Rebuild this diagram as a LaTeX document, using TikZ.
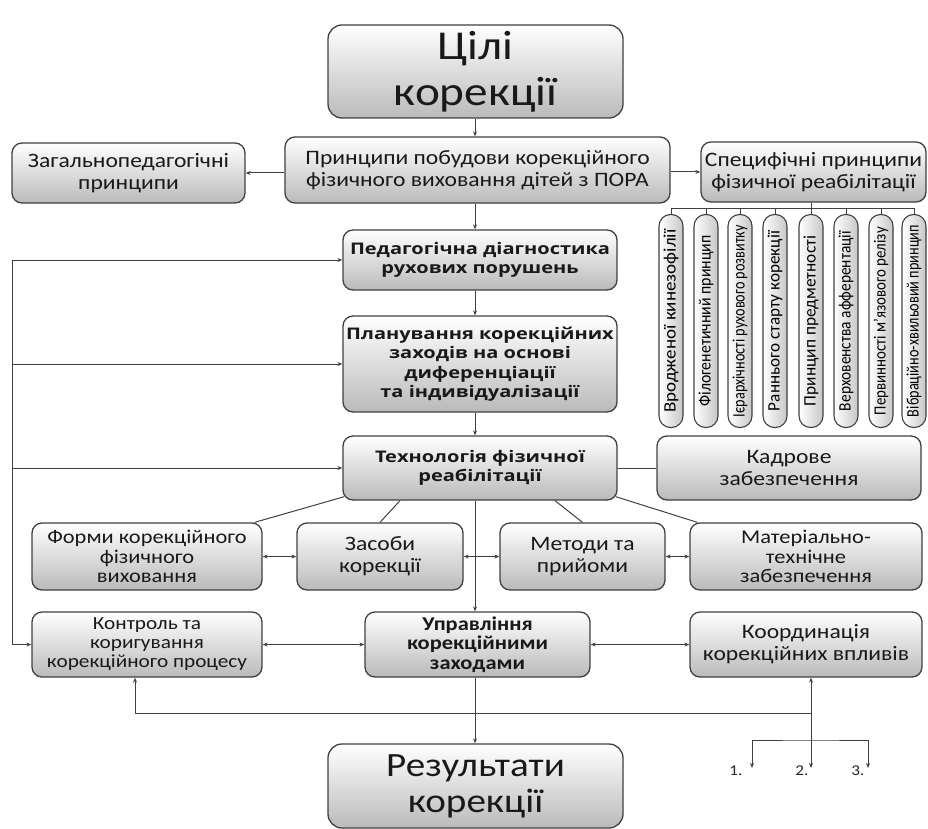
\documentclass[tikz,border=0pt]{standalone}
\usepackage{fontspec}
\usepackage{graphicx}
\setmainfont{Carlito}[FakeStretch=1.15]
\newfontfamily\capfont{Carlito}
\newfontfamily\osans{Open Sans}[FakeStretch=1.25]
\usetikzlibrary{arrows.meta}
\pgfdeclarelayer{bg}
\pgfsetlayers{bg,main}
\newcommand{\fmed}{\fontsize{20.5}{22}\selectfont}
\newcommand{\fmedt}{\fontsize{19.5}{19.5}\selectfont}
\newcommand{\fbold}{\osans\bfseries\fontsize{16}{19.5}\selectfont}
\newcommand{\capt}[2]{\rotatebox{90}{\resizebox{#1pt}{12pt}{#2}}}
\tikzset{
  box/.style={draw=black!75, line width=1.3pt, rounded corners=10pt,
    top color=white, bottom color=black!27, inner sep=2pt, align=center,
    font=\fmed, text=black!90},
  box3/.style={box, font=\fmedt},
  boldbox/.style={box, font=\fbold},
  bigbox/.style={box, rounded corners=14pt},
  capsule/.style={draw=black!75, line width=1.1pt, rounded corners=11.5pt,
    left color=white, right color=black!22, inner sep=0pt,
    minimum width=24pt, minimum height=213pt, font=\capfont\fontsize{14}{14}\selectfont},
  ln/.style={draw=black!75, line width=1pt},
  arr/.style={ln, -{Stealth[length=5pt,width=4pt]}},
  dbl/.style={ln, {Stealth[length=5pt,width=4pt]}-{Stealth[length=5pt,width=4pt]}},
  lbl/.style={font=\fontsize{15}{15}\selectfont, inner sep=0pt, text=black!85}
}
\begin{document}
\begin{tikzpicture}[x=1pt,y=-1pt]
\useasboundingbox (0,0) rectangle (928,829);
% main column
\node[bigbox, minimum width=295pt, minimum height=93pt, font=\fontsize{41}{46}\selectfont] (goals) at (475.5,71.5) {Цілі\\корекції};
\node[box, minimum width=233pt, minimum height=60pt] (general) at (128.5,173) {Загальнопедагогічні\\принципи};
\node[box, minimum width=385pt, minimum height=66pt] (princ) at (477.5,170) {Принципи побудови корекційного\\фізичного виховання дітей з ПОРА};
\node[box, minimum width=225pt, minimum height=60pt] (spec) at (813.5,172) {Специфічні принципи\\фізичної реабілітації};
\node[boldbox, minimum width=274pt, minimum height=60pt] (diag) at (480,260) {Педагогічна діагностика\\рухових порушень};
\node[boldbox, minimum width=274pt, minimum height=96pt] (plan) at (480,364) {Планування корекційних\\заходів на основі\\диференціації\\та індивідуалізації};
\node[boldbox, minimum width=274pt, minimum height=64pt] (tech) at (480,468) {Технологія фізичної\\реабілітації};
\node[box, minimum width=264pt, minimum height=64pt] (staff) at (789,468) {Кадрове\\забезпечення};
\node[box3, minimum width=230pt, minimum height=67pt] (forms) at (147,556.5) {Форми корекційного\\фізичного\\виховання};
\node[box, minimum width=166pt, minimum height=67pt] (means) at (380,556.5) {Засоби\\корекції};
\node[box, minimum width=165pt, minimum height=67pt] (methods) at (582.5,556.5) {Методи та\\прийоми};
\node[box3, minimum width=232pt, minimum height=67pt] (material) at (806,556.5) {Матеріально-\\технічне\\забезпечення};
\node[box3, minimum width=230pt, minimum height=65pt, font=\fontsize{18.5}{19}\selectfont] (control) at (147,644.5) {Контроль та\\коригування\\корекційного процесу};
\node[box3, minimum width=225pt, minimum height=65pt, font=\bfseries\fmedt] (manage) at (477.5,644.5) {Управління\\корекційними\\заходами};
\node[box, minimum width=232pt, minimum height=65pt] (coord) at (806,644.5) {Координація\\корекційних впливів};
\node[bigbox, minimum width=295pt, minimum height=84pt, font=\fontsize{34}{36}\selectfont] (results) at (475.5,786) {Результати\\корекції};
% capsules
\node[capsule] (c1) at (671,321) {\capt{183}{Вродженої кинезофілії}};
\node[capsule] (c2) at (706,321) {\capt{171}{Філогенетичний принцип}};
\node[capsule] (c3) at (740,321) {\capt{192}{Ієрархічності рухового розвитку}};
\node[capsule] (c4) at (775,321) {\capt{180}{Раннього старту корекції}};
\node[capsule] (c5) at (811,321) {\capt{170}{Принцип предметності}};
\node[capsule] (c6) at (846,321) {\capt{180}{Верховенства афферентації}};
\node[capsule] (c7) at (881,321) {\capt{188}{Первинності м’язового релізу}};
\node[capsule] (c8) at (914,321) {\capt{192}{Вібраційно-хвильовий принцип}};
% coordinates
\coordinate (axis) at (475,0);
\coordinate (lft) at (12,0);
\coordinate (bar) at (0,208);
\coordinate (fb) at (811,713);
\coordinate (cs) at (135,0);
\coordinate (br) at (0,740);
\coordinate (t1) at (752,768);
\coordinate (t2) at (811,768);
\coordinate (t3) at (868,768);
\node[lbl] (l1) at (736,771) {1.};
\node[lbl] (l2) at (802,771) {2.};
\node[lbl] (l3) at (858,771) {3.};
% connectors
\draw[arr] (axis |- goals.south) -- (axis |- princ.north);
\draw[arr] (princ.west |- general.east) -- (general.east);
\draw[arr] (princ.east |- spec.west) -- (spec.west);
\draw[arr] (axis |- princ.south) -- (axis |- diag.north);
\draw[arr] (axis |- diag.south) -- (axis |- plan.north);
\draw[arr] (axis |- plan.south) -- (axis |- tech.north);
\draw[arr] (axis |- tech.south) -- (axis |- manage.north);
\draw[arr] (axis |- manage.south) -- (axis |- results.north);
% specific principles tree
\draw[ln] (spec.south -| c5) -- (c5 |- bar);
\draw[ln] (c1 |- bar) -- (c8 |- bar);
\foreach \i in {1,...,8}{\draw[ln] (c\i |- bar) -- (c\i.north);}
% left feedback
\draw[ln] (lft |- diag.west) -- (lft |- control.west);
\draw[arr] (lft |- diag.west) -- (diag.west);
\draw[arr] (lft |- plan.west) -- (plan.west);
\draw[arr] (lft |- tech.west) -- (tech.west);
\draw[arr] (lft |- control.west) -- (control.west);
% technology
\draw[ln] (tech.east) -- (tech.east -| staff.west);
\begin{pgfonlayer}{bg}
\draw[ln] ([xshift=2pt,yshift=4pt]tech.south west) -- ([xshift=-8pt]forms.north east);
\draw[ln] ([xshift=-80pt]tech.south) -- (means.north);
\draw[ln] ([xshift=75pt]tech.south) -- (methods.north);
\draw[ln] ([xshift=-2pt,yshift=4pt]tech.south east) -- ([xshift=8pt]material.north west);
\end{pgfonlayer}
\draw[dbl] (forms.east) -- (means.west);
\draw[dbl] (means.east) -- (methods.west);
\draw[dbl] (methods.east) -- (material.west);
\draw[dbl] (control.east) -- (manage.west);
\draw[dbl] (manage.east) -- (coord.west);
% bottom feedback
\draw[dbl] (t2) -- (t2 |- coord.south);
\draw[arr] (fb) -| (cs |- control.south);
\draw[dbl] (t1) |- (t2 |- br) -| (t3);
\end{tikzpicture}
\end{document}
